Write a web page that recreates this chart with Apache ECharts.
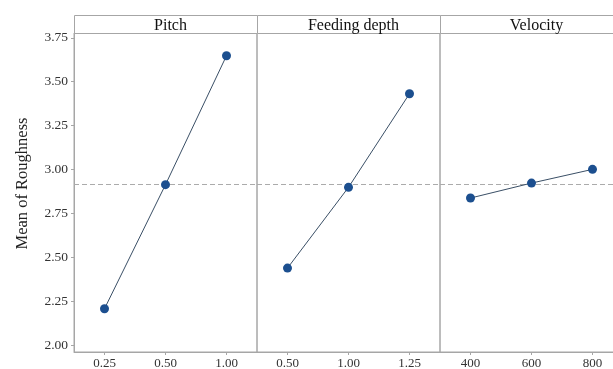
<!DOCTYPE html>
<html>
<head>
<meta charset="utf-8">
<script src="https://cdn.jsdelivr.net/npm/echarts@6/dist/echarts.min.js"></script>
<style>
  html, body { margin: 0; padding: 0; background: #fff; }
  #chart { width: 613px; height: 369px; }
</style>
</head>
<body>
<div id="chart"></div>
<script>
// Main effects plot for roughness: one panel per factor
const factorNames = ['Pitch', 'Feeding depth', 'Velocity'];
const pitchLevels = ['0.25', '0.50', '1.00'];
const depthLevels = ['0.50', '1.00', '1.25'];
const velocityLevels = ['400', '600', '800'];
const pitchMeans = [2.21, 2.915, 3.648];
const depthMeans = [2.441, 2.90, 3.432];
const velocityMeans = [2.839, 2.924, 3.002];
const grandMean = 2.923;
const yTicks = [2.00, 2.25, 2.50, 2.75, 3.00, 3.25, 3.50, 3.75];
const yAxisTitle = 'Mean of Roughness';

const levelSets = [pitchLevels, depthLevels, velocityLevels];
const meanSets = [pitchMeans, depthMeans, velocityMeans];

const FONT = '"Liberation Serif", "Times New Roman", serif';
const GRID_COLOR = '#a6a6a6';
const panelLeft = [74, 257, 440];
const panelWidth = 183;
const plotTop = 33;
const plotHeight = 319;
const stripTop = 15;

const grids = [], xAxes = [], yAxes = [], series = [], titles = [], graphics = [];

levelSets.forEach((levels, i) => {
  // the last panel runs past the right edge of the canvas
  grids.push({
    left: panelLeft[i], top: plotTop, width: panelWidth, height: plotHeight,
    outerBoundsMode: 'none', containLabel: false,
    show: true, borderColor: GRID_COLOR, borderWidth: 1, backgroundColor: 'transparent'
  });
  xAxes.push({
    type: 'category', gridIndex: i, data: levels, boundaryGap: true,
    axisLine: { show: true, lineStyle: { color: GRID_COLOR } },
    axisTick: { show: true, alignWithLabel: true, length: 3, lineStyle: { color: GRID_COLOR } },
    axisLabel: { fontFamily: FONT, fontSize: 13, color: '#333', margin: 5 },
    splitLine: { show: false }
  });
  yAxes.push({
    type: 'value', gridIndex: i, min: 1.964, max: 3.777,
    axisLine: { show: i === 0, lineStyle: { color: GRID_COLOR } },
    axisTick: { show: i === 0, length: 3, customValues: yTicks, lineStyle: { color: GRID_COLOR } },
    axisLabel: {
      show: i === 0, customValues: yTicks, fontFamily: FONT, fontSize: 13.5, color: '#333', margin: 6,
      formatter: v => v.toFixed(2)
    },
    splitLine: { show: false }
  });
  series.push({
    type: 'line', xAxisIndex: i, yAxisIndex: i, data: meanSets[i],
    symbol: 'circle', symbolSize: 9,
    itemStyle: { color: '#1c4f8f' },
    lineStyle: { color: '#3a4f66', width: 1 },
    z: 3,
    markLine: {
      silent: true, symbol: 'none', label: { show: false },
      lineStyle: { color: '#ababab', type: [5, 3], width: 1.2 },
      data: [{ yAxis: grandMean }],
      z: 1
    }
  });
  // header strip above each panel
  graphics.push({
    type: 'rect',
    shape: { x: panelLeft[i] + 0.5, y: stripTop + 0.5, width: panelWidth, height: plotTop - stripTop },
    style: { fill: '#fff', stroke: GRID_COLOR, lineWidth: 1 }
  });
  titles.push({
    text: factorNames[i],
    left: panelLeft[i] + panelWidth / 2, top: stripTop - 2,
    textAlign: 'center',
    textStyle: { fontFamily: FONT, fontSize: 16, fontWeight: 'normal', color: '#111' }
  });
});

// vertical axis title, centred on the panel including its header strip
graphics.push({
  type: 'text',
  x: 23, y: (stripTop + plotTop + plotHeight) / 2,
  rotation: Math.PI / 2,
  style: {
    text: yAxisTitle, fontFamily: FONT, fontSize: 16.5, fill: '#222',
    align: 'center', verticalAlign: 'middle'
  }
});

const chart = echarts.init(document.getElementById('chart'), null, { renderer: 'canvas' });
chart.setOption({
  animation: false,
  backgroundColor: '#fff',
  title: titles,
  grid: grids,
  xAxis: xAxes,
  yAxis: yAxes,
  series: series,
  graphic: graphics
});
</script>
</body>
</html>
